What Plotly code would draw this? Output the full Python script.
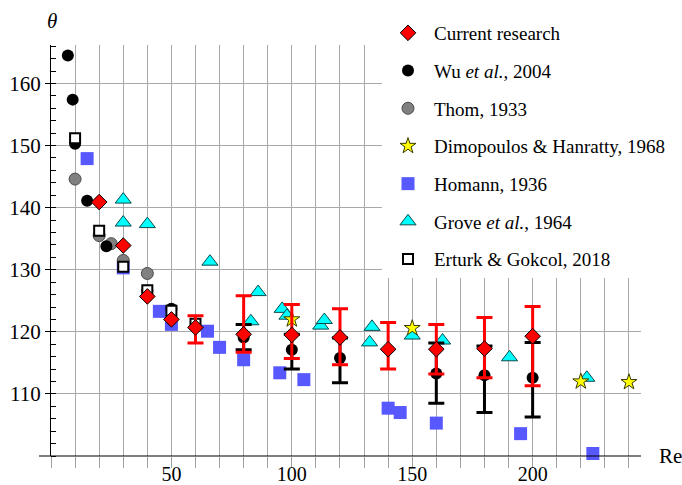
import plotly.graph_objects as go

# ---- Separation angle theta versus Reynolds number ----

# Current research (red diamonds) with error-bar ends
cur_re = [20, 30, 40, 50, 60, 80, 100, 120, 140, 160, 180, 200]
cur_theta = [140.9, 133.9, 125.7, 122.0, 120.7, 119.6, 119.5, 119.1, 117.2, 117.2, 117.3, 119.3]
cur_err_re = [60, 80, 100, 120, 140, 160, 180, 200]
cur_err_hi = [122.6, 125.8, 124.4, 123.7, 121.5, 121.2, 122.3, 124.1]
cur_err_lo = [118.2, 116.7, 115.7, 114.7, 114.0, 113.2, 112.6, 111.3]

# Wu et al., 2004 (black circles) with error-bar ends
wu_re = [7, 9, 10, 15, 23, 40, 50, 80, 100, 120, 160, 180, 200]
wu_theta = [164.5, 157.4, 150.3, 141.1, 133.8, 126.6, 123.7, 119.1, 117.1, 115.8, 113.3, 113.0, 112.6]
wu_err_re = [80, 100, 120, 160, 180, 200]
wu_err_hi = [121.2, 119.6, 119.0, 118.2, 117.7, 118.3]
wu_err_lo = [117.1, 114.0, 111.8, 108.5, 107.0, 106.3]

# Thom, 1933
thom_re = [10, 20, 25, 30, 40]
thom_theta = [144.6, 135.5, 134.2, 131.5, 129.4]

# Dimopoulos & Hanratty, 1968
dim_re = [100, 150, 220, 240]
dim_theta = [122.0, 120.6, 112.0, 111.9]

# Homann, 1936
hom_re = [15, 30, 45, 50, 65, 70, 80, 95, 105, 140, 145, 160, 195, 225]
hom_theta = [147.9, 130.3, 123.3, 121.2, 120.1, 117.5, 115.5, 113.4, 112.3, 107.7, 107.0, 105.3, 103.6, 100.4]

# Grove et al., 1964
gro_re = [30, 30, 40, 66, 83, 86, 96, 98, 112, 113.5, 132.3, 133.3, 150, 162.6, 190.4, 222.5]
gro_theta = [141.3, 137.6, 137.35, 131.3, 121.7, 126.4, 123.7, 122.6, 121.0, 121.9, 118.3, 120.8, 119.4, 118.6, 115.9, 112.6]

# Erturk & Gokcol, 2018
ert_re = [10, 20, 30, 40, 50, 60]
ert_theta = [151.2, 136.3, 130.5, 126.7, 123.4, 121.3]

# Axis ticks
x_ticks = list(range(0, 250, 10))
x_labelled = [50, 100, 150, 200]
y_ticks = [110, 120, 130, 140, 150, 160]

SERIF = "Liberation Serif"


def lookup(xs, ys, sel):
    return [ys[xs.index(v)] for v in sel]


def err_bars(xs, ys, sel, hi, lo, color):
    yv = lookup(xs, ys, sel)
    return go.Scatter(
        x=sel, y=yv, mode="markers",
        marker=dict(size=6, opacity=0),
        error_y=dict(type="data", symmetric=False,
                     array=[h - y for h, y in zip(hi, yv)],
                     arrayminus=[y - l for l, y in zip(lo, yv)],
                     color=color, thickness=3, width=8),
        showlegend=False, hoverinfo="skip",
    )


fig = go.Figure()

fig.add_trace(go.Scatter(
    x=hom_re, y=hom_theta, mode="markers", name="Homann, 1936",
    legendrank=5, legendgroup="hom",
    marker=dict(symbol="square", size=13, color="#5858FF", line=dict(width=0)),
    cliponaxis=False,
))
fig.add_trace(go.Scatter(
    x=gro_re, y=gro_theta, mode="markers", name="Grove <i>et al.</i>, 1964",
    legendrank=6, legendgroup="gro",
    marker=dict(symbol="triangle-up", size=14, color="#00FFFF", line=dict(width=1, color="#0B4A4A")),
))
fig.add_trace(go.Scatter(
    x=dim_re, y=dim_theta, mode="markers", name="Dimopoulos &amp; Hanratty, 1968",
    legendrank=4, legendgroup="dim",
    marker=dict(symbol="star", size=12, color="#FFFF00", line=dict(width=1, color="#3A3A00")),
))
fig.add_trace(go.Scatter(
    x=thom_re, y=thom_theta, mode="markers", name="Thom, 1933",
    legendrank=3, legendgroup="thom",
    marker=dict(symbol="circle", size=12, color="#808080", line=dict(width=1, color="#4A4A4A")),
))
fig.add_trace(err_bars(wu_re, wu_theta, wu_err_re, wu_err_hi, wu_err_lo, "black"))
fig.add_trace(go.Scatter(
    x=wu_re, y=wu_theta, mode="markers", name="Wu <i>et al.</i>, 2004",
    legendrank=2, legendgroup="wu",
    marker=dict(symbol="circle", size=12, color="black", line=dict(width=0)),
))
fig.add_trace(go.Scatter(
    x=ert_re, y=ert_theta, mode="markers", name="Erturk &amp; Gokcol, 2018",
    legendrank=7, legendgroup="ert",
    marker=dict(symbol="square", size=10, color="white", line=dict(width=2, color="black")),
))
fig.add_trace(err_bars(cur_re, cur_theta, cur_err_re, cur_err_hi, cur_err_lo, "#FF0000"))
fig.add_trace(go.Scatter(
    x=cur_re, y=cur_theta, mode="markers", name="Current research",
    legendrank=1, legendgroup="cur",
    marker=dict(symbol="diamond", size=12, color="#FF0000", line=dict(width=1, color="black")),
))

fig.update_layout(
    width=682, height=485,
    margin=dict(l=51, r=41, t=45, b=29, autoexpand=False),
    paper_bgcolor="white", plot_bgcolor="white",
    font=dict(family=SERIF, size=19, color="black"),
    showlegend=True,
    legend=dict(
        x=(382 - 51) / 590, xanchor="left",
        y=(456 - 278) / 411, yanchor="bottom",
        bgcolor="white", borderwidth=0,
        font=dict(family=SERIF, size=19, color="black"),
        itemwidth=42, tracegroupgap=10,
    ),
    xaxis=dict(
        range=[0, 245],
        tickmode="array", tickvals=x_ticks,
        ticktext=[str(v) if v in x_labelled else "" for v in x_ticks],
        ticks="outside", ticklen=11, tickcolor="#A0A0A0", tickwidth=1,
        ticklabelstandoff=-11,
        showgrid=True, gridcolor="#A8A8A8", gridwidth=1.2,
        showline=False, zeroline=False,
        tickfont=dict(family=SERIF, size=20, color="black"),
    ),
    yaxis=dict(
        range=[100, 166.2],
        tickmode="array", tickvals=y_ticks,
        ticks="outside", ticklen=5, tickcolor="black", tickwidth=1,
        minor=dict(tick0=100, dtick=2, ticks="inside", ticklen=5, tickcolor="black", showgrid=False),
        showgrid=True, gridcolor="#A8A8A8", gridwidth=1.2,
        showline=True, linecolor="black", linewidth=1.2,
        zeroline=False,
        tickfont=dict(family=SERIF, size=21, color="black"),
    ),
    shapes=[dict(type="line", xref="paper", yref="paper",
                 x0=-12 / 590, x1=1, y0=0, y1=0,
                 line=dict(color="black", width=1.2))],
    annotations=[
        dict(text="<i>θ</i>", xref="paper", yref="paper",
             x=(52 - 51) / 590, y=1 + (45 - 21) / 411,
             xanchor="center", yanchor="middle", showarrow=False,
             font=dict(family=SERIF, size=21, color="black")),
        dict(text="Re", xref="paper", yref="paper",
             x=(657 - 51) / 590, y=0,
             xanchor="left", yanchor="middle", showarrow=False,
             font=dict(family=SERIF, size=21, color="black")),
    ],
)

fig.write_html("out.html")
